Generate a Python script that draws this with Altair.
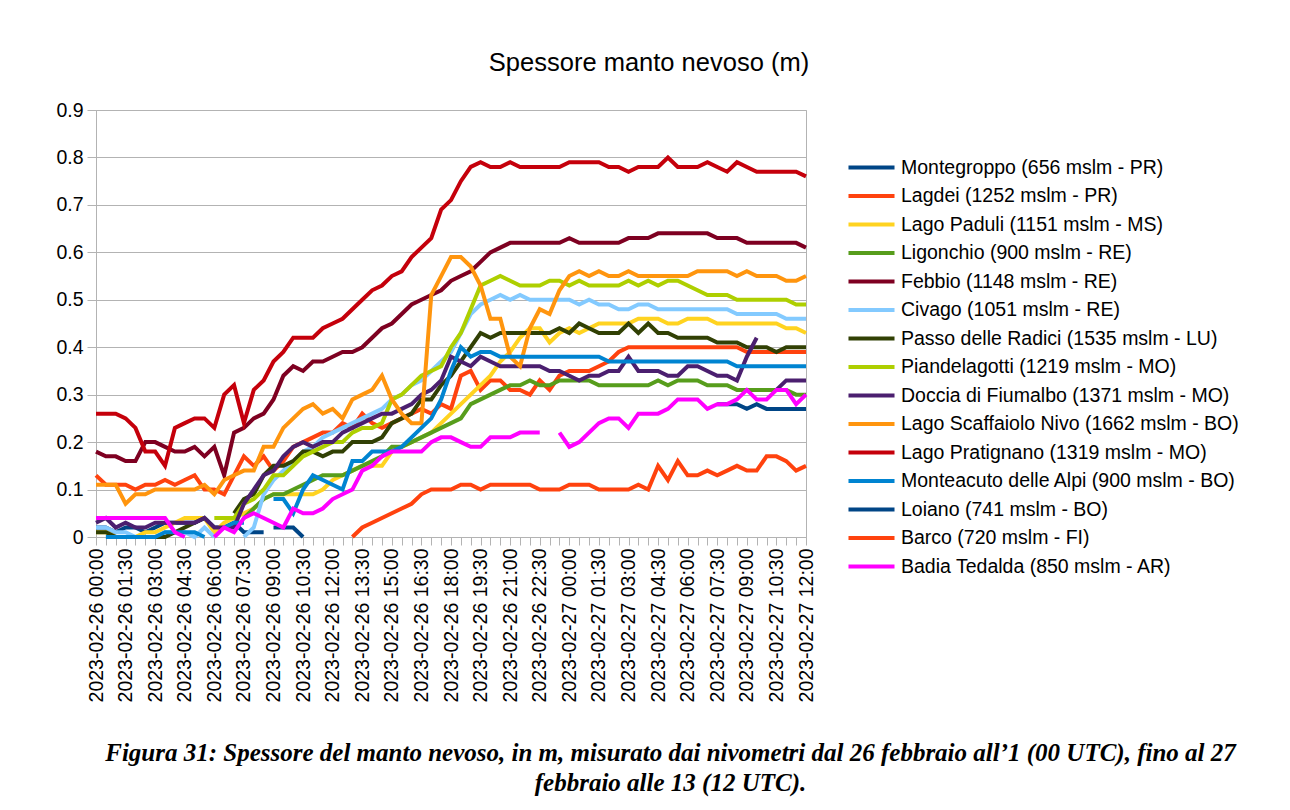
import json
import altair as alt
import pandas as pd

# ---- categories -------------------------------------------------------
times = []
for day, hours in (("2023-02-26", range(24)), ("2023-02-27", range(13))):
    for h in hours:
        for m in (0, 30):
            if day == "2023-02-27" and h == 12 and m == 30:
                continue
            times.append(f"{day} {h:02d}:{m:02d}")
tick_labels = times[::3]

stations = [
    "Montegroppo (656 mslm - PR)",
    "Lagdei (1252 mslm - PR)",
    "Lago Paduli (1151 mslm - MS)",
    "Ligonchio (900 mslm - RE)",
    "Febbio (1148 mslm - RE)",
    "Civago (1051 mslm - RE)",
    "Passo delle Radici (1535 mslm - LU)",
    "Piandelagotti (1219 mslm - MO)",
    "Doccia di Fiumalbo (1371 mslm - MO)",
    "Lago Scaffaiolo Nivo (1662 mslm - BO)",
    "Lago Pratignano (1319 mslm - MO)",
    "Monteacuto delle Alpi (900 mslm - BO)",
    "Loiano (741 mslm - BO)",
    "Barco (720 mslm - FI)",
    "Badia Tedalda (850 mslm - AR)",
]
colors = ["#004586", "#ff420e", "#ffd320", "#579d1c", "#7e0021", "#83caff",
          "#314004", "#aecf00", "#4b1f6f", "#ff950e", "#c5000b", "#0084d1",
          "#004586", "#ff420e", "#ff00ff"]

N = None
# ---- series values (m) ------------------------------------------------
montegroppo = [0.02, 0.02, 0.01, 0.02, 0.02, 0.01, 0.02, 0.03, 0.03, 0.03,
               0.03, 0.04, 0.02, 0.02, 0.03, 0.01, 0.01, 0.01] + [N] * 55
lagdei = [0.13, 0.11, 0.11, 0.11, 0.10, 0.11, 0.11, 0.12, 0.11, 0.12,
          0.13, 0.10, 0.10, 0.09, 0.13, 0.17, 0.15, 0.17, 0.14, 0.16,
          0.19, 0.20, 0.21, 0.22, 0.22, 0.24, 0.23, 0.26, 0.24, 0.23,
          0.24, 0.25, 0.26, 0.27, 0.26, 0.28, 0.27, 0.34, 0.35, 0.31,
          0.33, 0.33, 0.31, 0.31, 0.30, 0.33, 0.31, 0.34, 0.35, 0.35,
          0.35, 0.36, 0.37, 0.39, 0.40, 0.40, 0.40, 0.40, 0.40, 0.40,
          0.40, 0.40, 0.40, 0.40, 0.40, 0.40, 0.39, 0.39, 0.39, 0.39,
          0.39, 0.39, 0.39]
lago_paduli = [0.01, 0.01, 0.00, 0.00, 0.00, 0.01, 0.01, 0.02, 0.03, 0.04,
               0.04, 0.04, 0.01, 0.03, 0.04, 0.05, 0.06, 0.08, 0.09, 0.09,
               0.09, 0.09, 0.09, 0.10, 0.12, 0.13, 0.14, 0.15, 0.15, 0.15,
               0.18, 0.19, 0.20, 0.21, 0.22, 0.24, 0.26, 0.28, 0.30, 0.32,
               0.34, 0.37, 0.39, 0.42, 0.44, 0.44, 0.41, 0.43, 0.44, 0.43,
               0.44, 0.45, 0.45, 0.45, 0.45, 0.46, 0.46, 0.46, 0.45, 0.45,
               0.46, 0.46, 0.46, 0.45, 0.45, 0.45, 0.45, 0.45, 0.45, 0.45,
               0.44, 0.44, 0.43]
ligonchio = [N] * 15 + [
    0.04, 0.06, 0.08, 0.09, 0.09,
    0.10, 0.11, 0.12, 0.13, 0.13, 0.13, 0.14, 0.15, 0.16, 0.17,
    0.19, 0.19, 0.20, 0.21, 0.22, 0.23, 0.24, 0.25, 0.28, 0.29,
    0.30, 0.31, 0.32, 0.32, 0.33, 0.32, 0.32, 0.33, 0.33, 0.33,
    0.33, 0.32, 0.32, 0.32, 0.32, 0.32, 0.32, 0.33, 0.32, 0.33,
    0.33, 0.33, 0.32, 0.32, 0.32, 0.31, 0.31, 0.31, 0.31, 0.31,
    0.31, 0.30, 0.30]
febbio = [0.18, 0.17, 0.17, 0.16, 0.16, 0.20, 0.20, 0.19, 0.18, 0.18,
          0.19, 0.17, 0.19, 0.13, 0.22, 0.23, 0.25, 0.26, 0.29, 0.34,
          0.36, 0.35, 0.37, 0.37, 0.38, 0.39, 0.39, 0.40, 0.42, 0.44,
          0.45, 0.47, 0.49, 0.50, 0.51, 0.52, 0.54, 0.55, 0.56, 0.58,
          0.60, 0.61, 0.62, 0.62, 0.62, 0.62, 0.62, 0.62, 0.63, 0.62,
          0.62, 0.62, 0.62, 0.62, 0.63, 0.63, 0.63, 0.64, 0.64, 0.64,
          0.64, 0.64, 0.64, 0.63, 0.63, 0.63, 0.62, 0.62, 0.62, 0.62,
          0.62, 0.62, 0.61]
civago = [0.02, 0.02, 0.01, 0.01, 0.00, 0.00, 0.00, 0.01, 0.01, 0.01,
          0.00, 0.02, 0.00, N, N, 0.00, 0.02, 0.09, 0.12, 0.14,
          0.16, 0.18, 0.19, 0.21, 0.22, 0.23, 0.24, 0.25, 0.26, 0.27,
          0.29, 0.30, 0.32, 0.33, 0.35, 0.37, 0.39, 0.43, 0.47, 0.49,
          0.50, 0.51, 0.50, 0.51, 0.50, 0.50, 0.50, 0.50, 0.50, 0.49,
          0.50, 0.49, 0.49, 0.48, 0.48, 0.49, 0.49, 0.48, 0.48, 0.48,
          0.48, 0.48, 0.48, 0.48, 0.48, 0.47, 0.47, 0.47, 0.47, 0.47,
          0.46, 0.46, 0.46]
passo_radici = [0.01, 0.01, 0.00, 0.00, 0.00, 0.00, 0.00, 0.00, 0.01, 0.02,
                0.03, 0.04, N, N, 0.05, 0.08, 0.09, 0.13, 0.15, 0.15,
                0.16, 0.18, 0.18, 0.17, 0.18, 0.18, 0.20, 0.20, 0.20, 0.21,
                0.24, 0.25, 0.26, 0.29, 0.29, 0.32, 0.34, 0.37, 0.40, 0.43,
                0.42, 0.43, 0.43, 0.43, 0.43, 0.43, 0.43, 0.44, 0.43, 0.45,
                0.44, 0.43, 0.43, 0.43, 0.45, 0.43, 0.45, 0.43, 0.43, 0.42,
                0.42, 0.42, 0.42, 0.41, 0.41, 0.41, 0.40, 0.40, 0.40, 0.39,
                0.40, 0.40, 0.40]
piandelagotti = [N] * 12 + [
    0.04, 0.04, 0.04, 0.07, 0.08, 0.10, 0.13, 0.13,
    0.15, 0.17, 0.18, 0.19, 0.20, 0.20, 0.22, 0.23, 0.23, 0.24,
    0.29, 0.30, 0.32, 0.34, 0.35, 0.36, 0.40, 0.43, 0.48, 0.53,
    0.54, 0.55, 0.54, 0.53, 0.53, 0.53, 0.54, 0.54, 0.53, 0.54,
    0.53, 0.53, 0.53, 0.53, 0.54, 0.53, 0.54, 0.53, 0.54, 0.54,
    0.53, 0.52, 0.51, 0.51, 0.51, 0.50, 0.50, 0.50, 0.50, 0.50,
    0.50, 0.49, 0.49]
doccia = [0.03, 0.04, 0.02, 0.03, 0.02, 0.02, 0.03, 0.03, 0.03, 0.03,
          0.03, 0.04, 0.02, 0.02, 0.02, 0.07, 0.10, 0.13, 0.14, 0.17,
          0.19, 0.20, 0.19, 0.20, 0.20, 0.22, 0.23, 0.24, 0.25, 0.26,
          0.26, 0.27, 0.28, 0.30, 0.31, 0.33, 0.38, 0.37, 0.36, 0.38,
          0.37, 0.36, 0.36, 0.36, 0.36, 0.36, 0.35, 0.35, 0.34, 0.33,
          0.34, 0.34, 0.35, 0.35, 0.38, 0.35, 0.35, 0.35, 0.34, 0.34,
          0.36, 0.36, 0.35, 0.34, 0.34, 0.33, 0.38, 0.42, N, 0.31,
          0.33, 0.33, 0.33]
scaffaiolo = [0.11, 0.11, 0.11, 0.07, 0.09, 0.09, 0.10, 0.10, 0.10, 0.10,
              0.10, 0.11, 0.09, 0.12, 0.13, 0.14, 0.14, 0.19, 0.19, 0.23,
              0.25, 0.27, 0.28, 0.26, 0.27, 0.25, 0.29, 0.30, 0.31, 0.34,
              0.29, 0.26, 0.24, 0.24, 0.51, 0.55, 0.59, 0.59, 0.57, 0.53,
              0.46, 0.46, 0.38, 0.36, 0.44, 0.48, 0.47, 0.52, 0.55, 0.56,
              0.55, 0.56, 0.55, 0.55, 0.56, 0.55, 0.55, 0.55, 0.55, 0.55,
              0.55, 0.56, 0.56, 0.56, 0.56, 0.55, 0.56, 0.55, 0.55, 0.55,
              0.54, 0.54, 0.55]
pratignano = [0.26, 0.26, 0.26, 0.25, 0.23, 0.18, 0.18, 0.15, 0.23, 0.24,
              0.25, 0.25, 0.23, 0.30, 0.32, 0.24, 0.31, 0.33, 0.37, 0.39,
              0.42, 0.42, 0.42, 0.44, 0.45, 0.46, 0.48, 0.50, 0.52, 0.53,
              0.55, 0.56, 0.59, 0.61, 0.63, 0.69, 0.71, 0.75, 0.78, 0.79,
              0.78, 0.78, 0.79, 0.78, 0.78, 0.78, 0.78, 0.78, 0.79, 0.79,
              0.79, 0.79, 0.78, 0.78, 0.77, 0.78, 0.78, 0.78, 0.80, 0.78,
              0.78, 0.78, 0.79, 0.78, 0.77, 0.79, 0.78, 0.77, 0.77, 0.77,
              0.77, 0.77, 0.76]
monteacuto = [N, 0.00, 0.00, 0.00, 0.00, 0.00, 0.00, 0.01, 0.01, 0.01,
              0.01, 0.00, N, 0.02, 0.03, 0.03, N, N, 0.08, 0.08,
              0.05, 0.10, 0.13, 0.12, 0.11, 0.10, 0.16, 0.16, 0.18, 0.18,
              0.18, 0.19, 0.21, 0.23, 0.25, 0.29, 0.35, 0.40, 0.38, 0.39,
              0.39, 0.38, 0.38, 0.38, 0.38, 0.38, 0.38, 0.38, 0.38, 0.38,
              0.38, 0.38, 0.37, 0.37, 0.37, 0.37, 0.37, 0.37, 0.37, 0.37,
              0.37, 0.37, 0.37, 0.37, 0.37, 0.36, 0.36, 0.36, 0.36, 0.36,
              0.36, 0.36, 0.36]
loiano = [N] * 18 + [0.02, 0.02, 0.02, 0.00] + [N] * 41 + [
    0.28, 0.28, 0.28, 0.27, 0.28, 0.27, 0.27, 0.27, 0.27, 0.27]
barco = [N] * 26 + [
    0.00, 0.02, 0.03, 0.04,
    0.05, 0.06, 0.07, 0.09, 0.10, 0.10, 0.10, 0.11, 0.11, 0.10,
    0.11, 0.11, 0.11, 0.11, 0.11, 0.10, 0.10, 0.10, 0.11, 0.11,
    0.11, 0.10, 0.10, 0.10, 0.10, 0.11, 0.10, 0.15, 0.12, 0.16,
    0.13, 0.13, 0.14, 0.13, 0.14, 0.15, 0.14, 0.14, 0.17, 0.17,
    0.16, 0.14, 0.15]
badia = [0.04, 0.04, 0.04, 0.04, 0.04, 0.04, 0.04, 0.04, 0.01, 0.00,
         N, N, 0.00, 0.02, 0.01, 0.04, 0.05, 0.04, 0.03, 0.02,
         0.06, 0.05, 0.05, 0.06, 0.08, 0.09, 0.10, 0.14, 0.15, 0.17,
         0.18, 0.18, 0.18, 0.18, 0.20, 0.21, 0.21, 0.20, 0.19, 0.19,
         0.21, 0.21, 0.21, 0.22, 0.22, 0.22, N, 0.22, 0.19, 0.20,
         0.22, 0.24, 0.25, 0.25, 0.23, 0.26, 0.26, 0.26, 0.27, 0.29,
         0.29, 0.29, 0.27, 0.28, 0.28, 0.29, 0.31, 0.29, 0.29, 0.31,
         0.31, 0.28, 0.30]

series = [montegroppo, lagdei, lago_paduli, ligonchio, febbio, civago,
          passo_radici, piandelagotti, doccia, scaffaiolo, pratignano,
          monteacuto, loiano, barco, badia]

rows = []
for name, vals in zip(stations, series):
    seg = 0
    for t, v in zip(times, vals):
        if v is None:
            seg += 1
            continue
        rows.append({"t": t, "station": name, "v": v, "seg": f"{name}-{seg}"})
df = pd.DataFrame(rows)

FONT = "Liberation Sans"
GRID = "#b3b3b3"
label_expr = f"indexof({json.dumps(tick_labels)}, datum.value) >= 0 ? datum.value : ''"

caption = [
    "Figura 31: Spessore del manto nevoso, in m, misurato dai nivometri dal 26 febbraio all\u20191 (00 UTC), fino al 27",
    "febbraio alle 13 (12 UTC).",
]

base = alt.Chart(df).mark_line(strokeWidth=4).encode(
    x=alt.X(
        "t:O", sort=times,
        scale=alt.Scale(type="point", padding=0),
        axis=alt.Axis(
            title=caption, labelExpr=label_expr, labelAngle=270,
            labelAlign="right", labelBaseline="middle", labelFont=FONT,
            labelFontSize=19.5, labelColor="black", labelPadding=3,
            labelOverlap=False, tickSize=8, tickColor=GRID, domainColor=GRID,
            titleFont="Liberation Serif", titleFontSize=25,
            titleFontStyle="italic", titleFontWeight="bold", titleColor="black",
            titleAlign="center", titleBaseline="top", titleX=574, titleY=203,
            titleLineHeight=30,
        ),
    ),
    y=alt.Y(
        "v:Q",
        scale=alt.Scale(domain=[0, 0.9], nice=False),
        axis=alt.Axis(
            title=None, values=[0, 0.1, 0.2, 0.3, 0.4, 0.5, 0.6, 0.7, 0.8, 0.9],
            format=".1~f", labelFont=FONT, labelFontSize=19.5, labelColor="black",
            labelPadding=4, tickSize=9, tickColor=GRID, domainColor=GRID,
            gridColor=GRID,
        ),
    ),
    color=alt.Color(
        "station:N",
        scale=alt.Scale(domain=stations, range=colors),
        legend=alt.Legend(
            title=None, orient="none", legendX=764, legendY=46,
            symbolType="M-2.5,0H2.5", symbolSize=339, symbolStrokeWidth=4,
            labelFont=FONT, labelFontSize=19.5, labelColor="black",
            labelOffset=18, rowPadding=7.5, labelLimit=600,
        ),
    ),
    detail="seg:N",
)

layers = [base.transform_filter(alt.datum.station == s) for s in stations]

chart = alt.layer(*layers).properties(
    width=710, height=427,
    padding={"left": 88, "top": 102, "right": 470, "bottom": 262},
    autosize=alt.AutoSizeParams(type="none"),
    title=alt.TitleParams(
        text="Spessore manto nevoso (m)", font=FONT, fontSize=25.5,
        fontWeight="normal", color="black", anchor="middle", dx=198, offset=24,
    ),
).configure_view(stroke=GRID)

chart.save("out.html", embed_options={"renderer": "svg", "actions": False})
